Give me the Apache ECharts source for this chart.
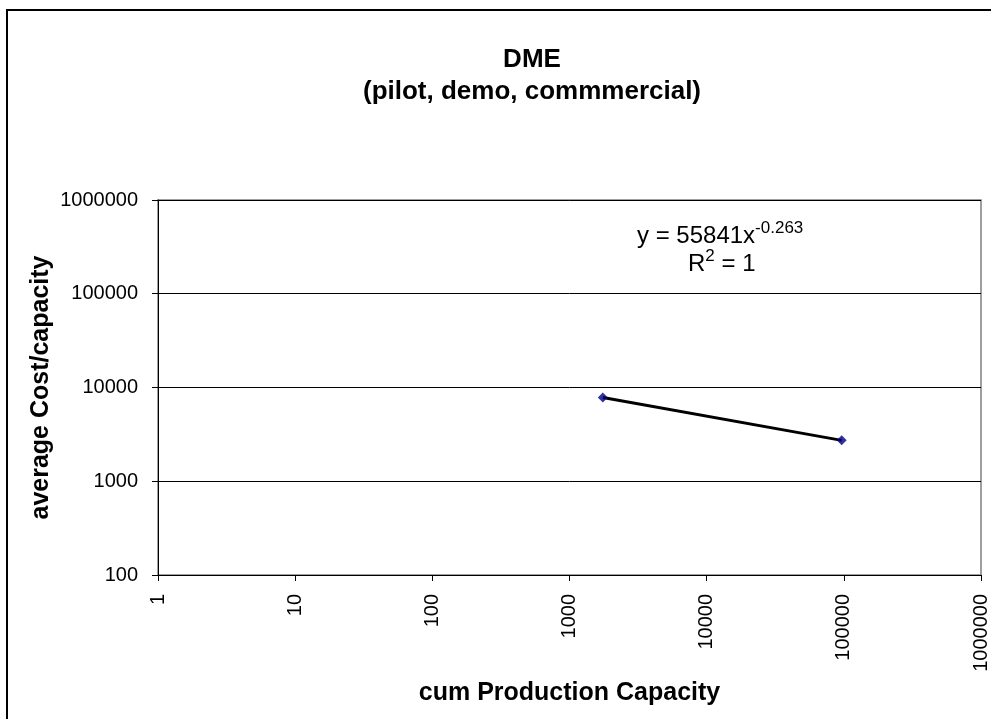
<!DOCTYPE html>
<html>
<head>
<meta charset="utf-8">
<script src="https://cdn.jsdelivr.net/npm/echarts@6/dist/echarts.min.js"></script>
<style>
  html, body { margin: 0; padding: 0; background: #fff; }
  #chart { width: 991px; height: 719px; }
</style>
</head>
<body>
<div id="chart"></div>
<script>
// Cumulative production capacity vs. average cost per unit capacity (log-log)
const capacity = [1750, 96500];
const avgCost = [7840, 2730];
const xTicks = [1, 10, 100, 1000, 10000, 100000, 1000000];
const yTicks = [100, 1000, 10000, 100000, 1000000];
const titleLines = ['DME', '(pilot, demo, commmercial)'];
const fitCoef = 55841;
const fitExp = '-0.263';
const rSquared = 1;

const points = capacity.map((x, i) => [x, avgCost[i]]);
const FONT = '"Liberation Sans", Arial, sans-serif';

const chart = echarts.init(document.getElementById('chart'), null, { renderer: 'canvas' });
chart.setOption({
  backgroundColor: '#fff',
  animation: false,
  title: {
    text: titleLines.join('\n'),
    left: 532,
    top: 44,
    textAlign: 'center',
    padding: 0,
    textStyle: { fontFamily: FONT, fontSize: 26, fontWeight: 'bold', color: '#000', lineHeight: 32 }
  },
  grid: { left: 158, top: 200, right: 5, bottom: 144, show: true, borderColor: '#808080', borderWidth: 1.5 },
  xAxis: {
    type: 'log',
    logBase: 10,
    min: xTicks[0],
    max: xTicks[xTicks.length - 1],
    name: 'cum Production Capacity',
    nameLocation: 'middle',
    nameGap: 106,
    nameMoveOverlap: false,
    nameTextStyle: { fontFamily: FONT, fontSize: 25, fontWeight: 'bold', color: '#000' },
    axisLine: { lineStyle: { color: '#000', width: 1 } },
    axisTick: { show: true, length: 6, lineStyle: { color: '#000' } },
    axisLabel: {
      rotate: 90,
      margin: 19,
      fontFamily: FONT,
      fontSize: 20,
      color: '#000',
      formatter: v => String(Math.round(v))
    },
    splitLine: { show: false }
  },
  yAxis: {
    type: 'log',
    logBase: 10,
    min: yTicks[0],
    max: yTicks[yTicks.length - 1],
    name: 'average Cost/capacity',
    nameLocation: 'middle',
    nameGap: 104,
    nameMoveOverlap: false,
    nameTextStyle: { fontFamily: FONT, fontSize: 25, fontWeight: 'bold', color: '#000' },
    axisLine: { lineStyle: { color: '#000', width: 1 } },
    axisTick: { show: true, length: 6, lineStyle: { color: '#000' } },
    axisLabel: {
      margin: 20,
      fontFamily: FONT,
      fontSize: 20,
      color: '#000',
      formatter: v => String(Math.round(v))
    },
    splitLine: { show: true, lineStyle: { color: '#000', width: 1 } }
  },
  series: [
    {
      // power trendline (straight on log-log axes) through the data
      name: 'trend',
      type: 'line',
      data: points,
      symbol: 'none',
      lineStyle: { color: '#000', width: 3 },
      z: 2
    },
    {
      name: 'DME',
      type: 'scatter',
      data: points,
      symbol: 'diamond',
      symbolSize: 10,
      itemStyle: { color: '#000080' },
      z: 3
    }
  ],
  graphic: [
    {
      type: 'rect',
      shape: { x: 7, y: 10, width: 1000, height: 720 },
      style: { fill: 'none', stroke: '#000', lineWidth: 2 },
      silent: true,
      z: 100
    },
    {
      type: 'text',
      left: 637,
      top: 220,
      style: {
        text: '{b|y = ' + fitCoef + 'x}{s|' + fitExp + '}',
        rich: {
          b: { fontFamily: FONT, fontSize: 24, fill: '#000', lineHeight: 30 },
          s: { fontFamily: FONT, fontSize: 17, fill: '#000', lineHeight: 30, padding: [0, 0, 16, 0] }
        }
      }
    },
    {
      type: 'text',
      left: 688,
      top: 248,
      style: {
        text: '{b|R}{s|2}{b| = ' + rSquared + '}',
        rich: {
          b: { fontFamily: FONT, fontSize: 24, fill: '#000', lineHeight: 30 },
          s: { fontFamily: FONT, fontSize: 17, fill: '#000', lineHeight: 30, padding: [0, 0, 16, 0] }
        }
      }
    }
  ]
});
</script>
</body>
</html>
